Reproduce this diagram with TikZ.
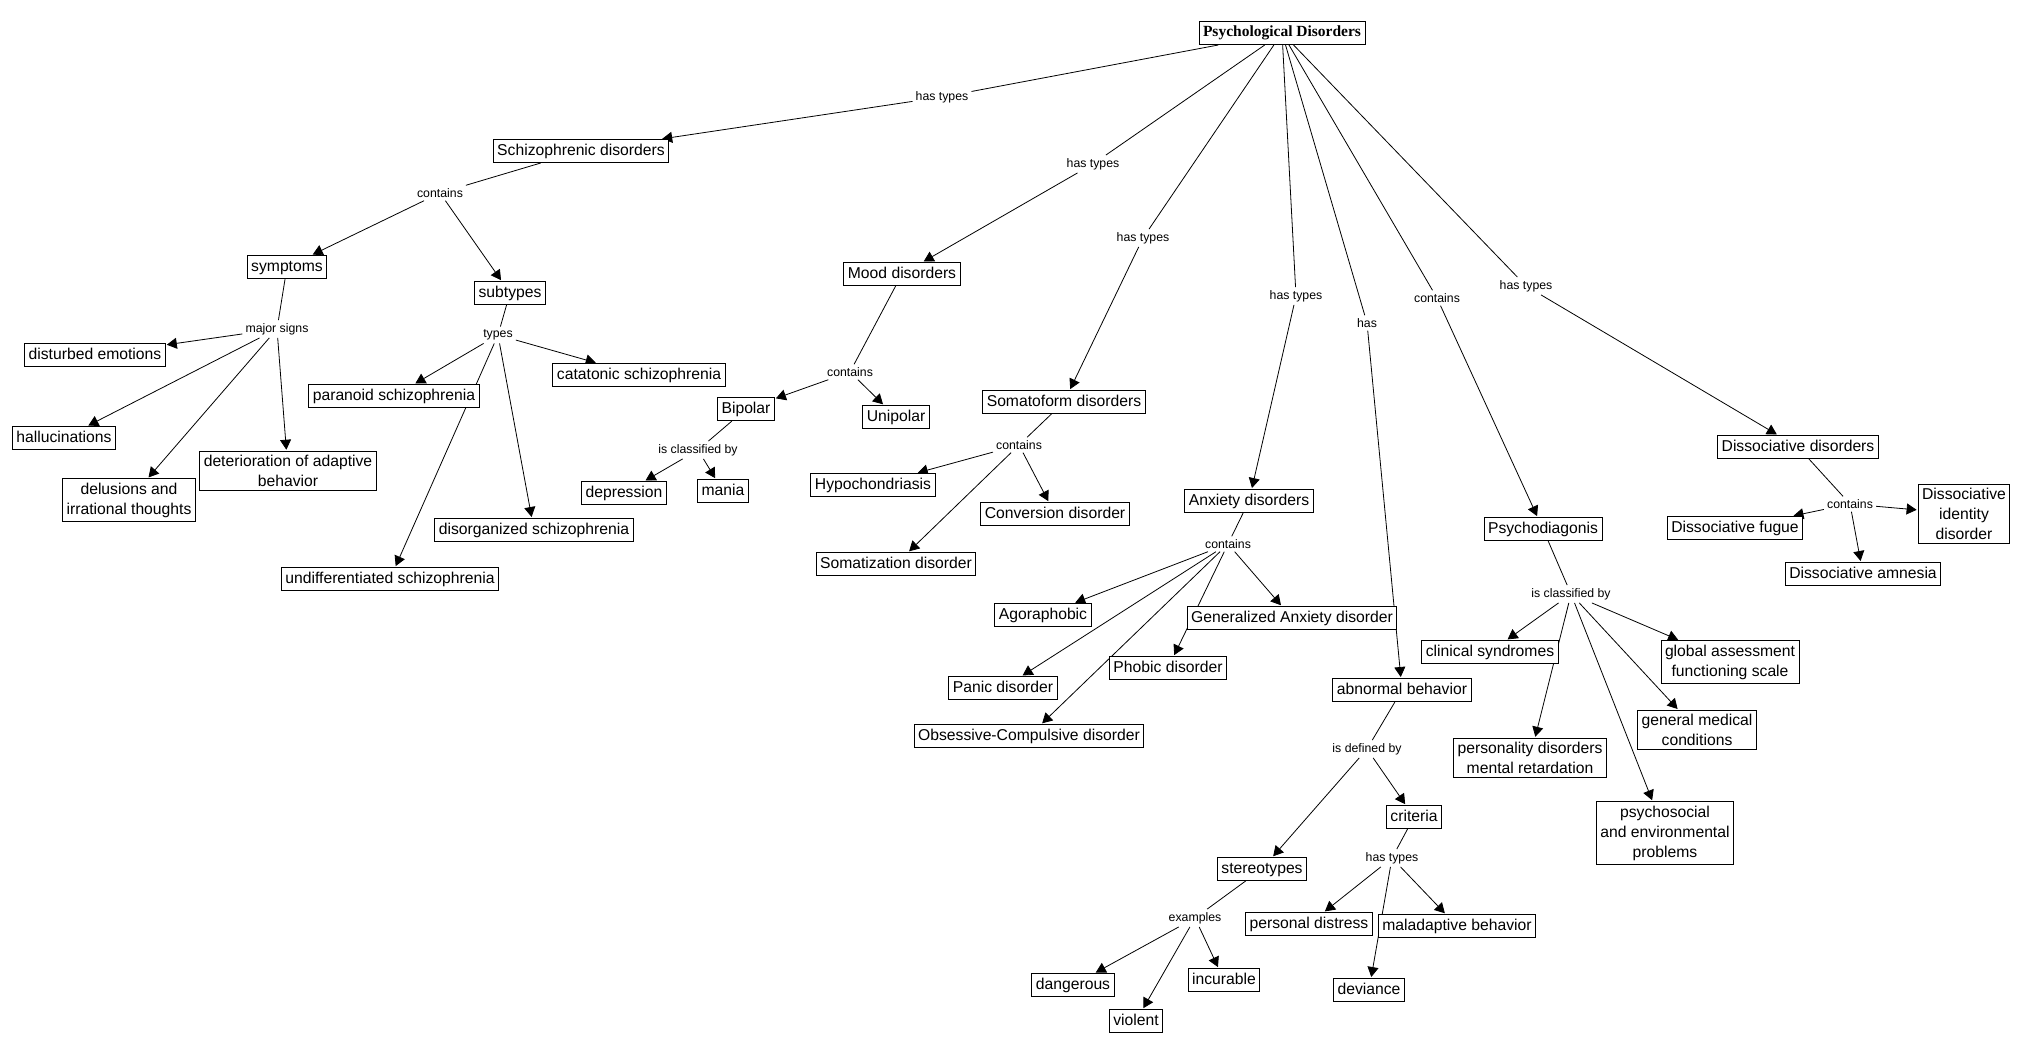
\documentclass[tikz,border=0pt]{standalone}
\usepackage{fontspec}
\setmainfont{Liberation Sans}
\newfontfamily\titlefont{Liberation Serif}
\usetikzlibrary{arrows.meta}
\pgfdeclarelayer{bg}
\pgfsetlayers{bg,main}
\begin{document}
\begin{tikzpicture}[x=1pt,y=-1pt,
  cbox/.style={draw, line width=1pt, fill=white, inner xsep=4pt, inner ysep=4pt, text height=11.5pt, text depth=3.5pt, font=\fontsize{15.7}{20}\selectfont},
  mbox/.style={draw, line width=1pt, fill=white, inner xsep=4pt, inner ysep=4pt, align=center, font=\fontsize{15.7}{20}\selectfont},
  lbl/.style={inner sep=3pt, font=\fontsize{12.3}{14}\selectfont},
  ln/.style={line width=0.8pt},
  ar/.style={line width=0.8pt, -{Triangle[length=10pt,width=11pt]}, shorten >=1pt},
]
\useasboundingbox (0,0) rectangle (2026,1054);

% concept nodes
\node[cbox, font=\titlefont\bfseries\fontsize{15.5}{18}\selectfont] (P) at (1282,33) {Psychological Disorders};
\node[cbox] (SD) at (581,151) {Schizophrenic disorders};
\node[cbox] (sym) at (287,267) {symptoms};
\node[cbox] (sub) at (510,293) {subtypes};
\node[cbox] (de) at (95,355) {disturbed emotions};
\node[cbox] (hal) at (64,438) {hallucinations};
\node[mbox] (del) at (129,500) {delusions and\\irrational thoughts};
\node[mbox] (det) at (288,471) {deterioration of adaptive\\behavior};
\node[cbox] (par) at (394,396) {paranoid schizophrenia};
\node[cbox] (cat) at (639,375) {catatonic schizophrenia};
\node[cbox] (dis) at (534,530) {disorganized schizophrenia};
\node[cbox] (und) at (390,579) {undifferentiated schizophrenia};
\node[cbox] (MD) at (902,274) {Mood disorders};
\node[cbox] (bip) at (746,409) {Bipolar};
\node[cbox] (uni) at (896,417) {Unipolar};
\node[cbox] (dep) at (624,493) {depression};
\node[cbox] (man) at (723,491) {mania};
\node[cbox] (SF) at (1064,402) {Somatoform disorders};
\node[cbox] (hyp) at (873,485) {Hypochondriasis};
\node[cbox] (con) at (1055,514) {Conversion disorder};
\node[cbox] (som) at (896,564) {Somatization disorder};
\node[cbox] (AD) at (1249,501) {Anxiety disorders};
\node[cbox] (ago) at (1043,615) {Agoraphobic};
\node[cbox] (gad) at (1292,618) {Generalized Anxiety disorder};
\node[cbox] (pho) at (1168,668) {Phobic disorder};
\node[cbox] (pan) at (1003,688) {Panic disorder};
\node[cbox] (ocd) at (1029,736) {Obsessive-Compulsive disorder};
\node[cbox] (ab) at (1402,690) {abnormal behavior};
\node[cbox] (cri) at (1414,817) {criteria};
\node[cbox] (ste) at (1262,869) {stereotypes};
\node[cbox] (pd) at (1309,924) {personal distress};
\node[cbox] (mal) at (1457,926) {maladaptive behavior};
\node[cbox] (dev) at (1369,990) {deviance};
\node[cbox] (dan) at (1073,985) {dangerous};
\node[cbox] (inc) at (1224,980) {incurable};
\node[cbox] (vio) at (1136,1021) {violent};
\node[cbox] (PS) at (1543,529) {Psychodiagonis};
\node[cbox] (cs) at (1490,652) {clinical syndromes};
\node[mbox] (pers) at (1530,758) {personality disorders\\mental retardation};
\node[mbox] (glo) at (1730,662) {global assessment\\functioning scale};
\node[mbox] (gen) at (1697,730) {general medical\\conditions};
\node[mbox] (psy) at (1665,833) {psychosocial\\and environmental\\problems};
\node[cbox] (DD) at (1798,447) {Dissociative disorders};
\node[cbox] (fug) at (1735,528) {Dissociative fugue};
\node[cbox] (amn) at (1863,574) {Dissociative amnesia};
\node[mbox] (did) at (1964,514) {Dissociative\\identity\\disorder};

% linking phrases
\node[lbl] (l1) at (942,97) {has types};
\node[lbl] (l2) at (1093,164) {has types};
\node[lbl] (l3) at (1143,238) {has types};
\node[lbl] (l4) at (1296,296) {has types};
\node[lbl] (l5) at (1367,323) {has};
\node[lbl] (l6) at (1437,298) {contains};
\node[lbl] (l7) at (1526,286) {has types};
\node[lbl] (l8) at (440,193) {contains};
\node[lbl] (l9) at (277,329) {major signs};
\node[lbl] (l10) at (498,335) {types};
\node[lbl] (l11) at (850,372) {contains};
\node[lbl] (l12) at (698,450) {is classified by};
\node[lbl] (l13) at (1019,445) {contains};
\node[lbl] (l14) at (1228,544) {contains};
\node[lbl] (l15) at (1571,594) {is classified by};
\node[lbl] (l16) at (1850,504) {contains};
\node[lbl] (l17) at (1367,749) {is defined by};
\node[lbl] (l18) at (1195,918) {examples};
\node[lbl] (l19) at (1392,858) {has types};

\begin{pgfonlayer}{bg}
\fill[white] (0,0) rectangle (2026,1054);
\draw[ln] (P) -- (l1); \draw[ar] (l1) -- (SD);
\draw[ln] (P) -- (l2); \draw[ar] (l2) -- (MD);
\draw[ln] (P) -- (l3); \draw[ar] (l3) -- (SF);
\draw[ln] (P) -- (l4); \draw[ar] (l4) -- (AD);
\draw[ln] (P) -- (l5); \draw[ar] (l5) -- (ab);
\draw[ln] (P) -- (l6); \draw[ar] (l6) -- (PS);
\draw[ln] (P) -- (l7); \draw[ar] (l7) -- (DD);

\draw[ln] (SD) -- (l8); \draw[ar] (l8) -- (sym); \draw[ar] (l8) -- (sub);
\draw[ln] (sym) -- (l9);
\draw[ar] (l9) -- (de); \draw[ar] (l9) -- (hal); \draw[ar] (l9) -- (del); \draw[ar] (l9) -- (det);
\draw[ln] (sub) -- (l10);
\draw[ar] (l10) -- (par); \draw[ar] (l10) -- (cat); \draw[ar] (l10) -- (dis); \draw[ar] (l10) -- (und);

\draw[ln] (MD) -- (l11); \draw[ar] (l11) -- (bip); \draw[ar] (l11) -- (uni);
\draw[ln] (bip) -- (l12); \draw[ar] (l12) -- (dep); \draw[ar] (l12) -- (man);

\draw[ln] (SF) -- (l13); \draw[ar] (l13) -- (hyp); \draw[ar] (l13) -- (con); \draw[ar] (l13) -- (som);

\draw[ln] (AD) -- (l14);
\draw[ar] (l14) -- (ago); \draw[ar] (l14) -- (pan); \draw[ar] (l14) -- (ocd);
\draw[ar] (l14) -- (pho); \draw[ar] (l14) -- (gad);

\draw[ln] (PS) -- (l15);
\draw[ar] (l15) -- (cs); \draw[ar] (l15) -- (pers); \draw[ar] (l15) -- (psy);
\draw[ar] (l15) -- (gen); \draw[ar] (l15) -- (glo);

\draw[ln] (DD) -- (l16);
\draw[ar] (l16) -- (fug); \draw[ar] (l16) -- (amn); \draw[ar] (l16) -- (did);

\draw[ln] (ab) -- (l17); \draw[ar] (l17) -- (ste); \draw[ar] (l17) -- (cri);
\draw[ln] (ste) -- (l18);
\draw[ar] (l18) -- (dan); \draw[ar] (l18) -- (vio); \draw[ar] (l18) -- (inc);
\draw[ln] (cri) -- (l19);
\draw[ar] (l19) -- (pd); \draw[ar] (l19) -- (mal); \draw[ar] (l19) -- (dev);
\end{pgfonlayer}
\end{tikzpicture}
\end{document}
